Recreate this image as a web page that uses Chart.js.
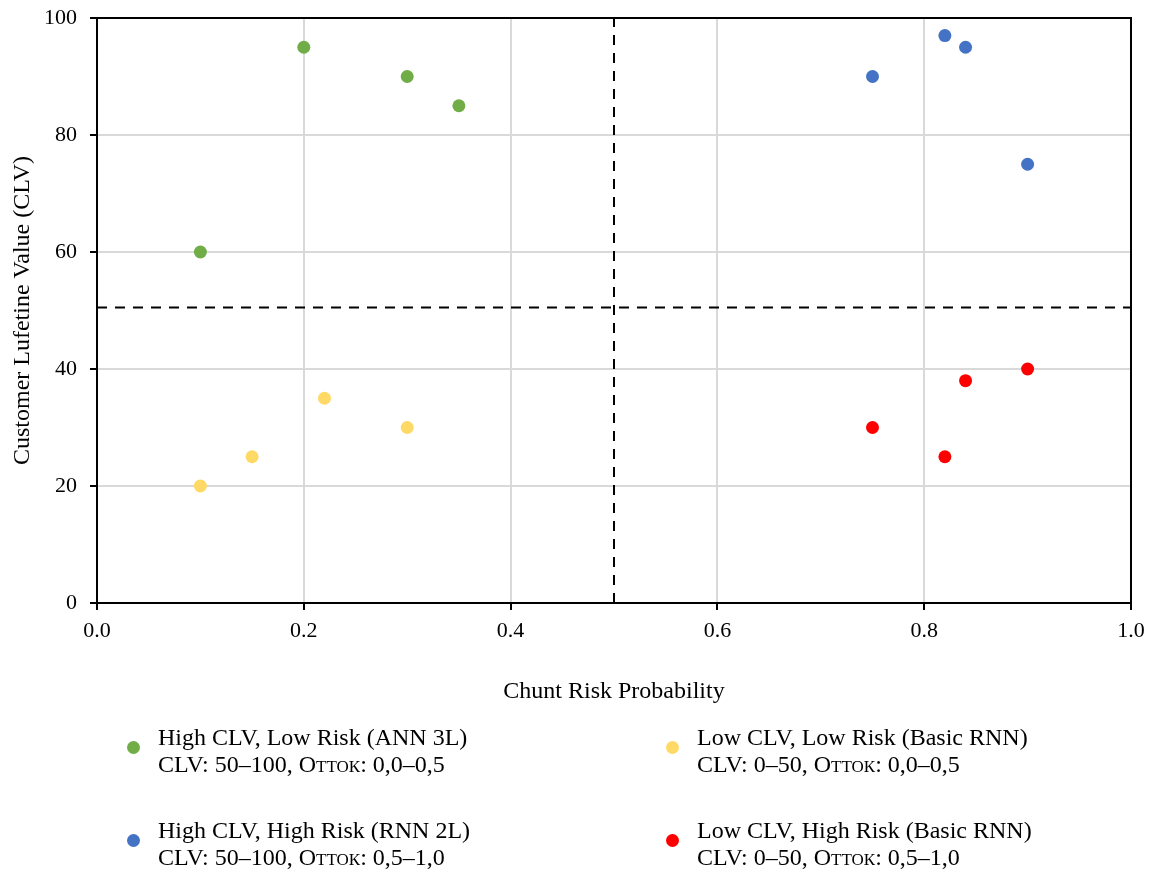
<!DOCTYPE html>
<html>
<head>
<meta charset="utf-8">
<script src="https://cdn.jsdelivr.net/npm/chart.js@4/dist/chart.umd.min.js"></script>
<style>
  body { margin: 0; background: #fff; }
  #wrap { position: relative; width: 1150px; height: 872px; font-family: "Liberation Serif", "Times New Roman", serif; color: #000; }
  #chart { position: absolute; left: 0; top: 0; }
  .leg { position: absolute; font-size: 24px; line-height: 27px; white-space: nowrap; }
  .leg .dot { position: absolute; width: 13px; height: 13px; border-radius: 50%; left: -31px; top: 17px; }
  .sc { font-variant: small-caps; }
</style>
</head>
<body>
<div id="wrap">
  <canvas id="chart" width="1150" height="872"></canvas>
  <div id="legend"></div>
</div>
<script>
// Данные с графика
const greenX = [0.1, 0.2, 0.3, 0.35];
const greenY = [60, 95, 90, 85];
const yellowX = [0.1, 0.15, 0.22, 0.3];
const yellowY = [20, 25, 35, 30];
const blueX = [0.75, 0.82, 0.84, 0.9];
const blueY = [90, 97, 95, 75];
const redX = [0.75, 0.82, 0.84, 0.9];
const redY = [30, 25, 38, 40];

const seriesNames = [
    'High CLV, Low Risk (ANN 3L)',
    'Low CLV, Low Risk (Basic RNN)',
    'High CLV, High Risk (RNN 2L)',
    'Low CLV, High Risk (Basic RNN)'
];
const seriesRanges = [
    ['CLV: 50–100, ', 'Отток', ': 0,0–0,5'],
    ['CLV: 0–50, ', 'Отток', ': 0,0–0,5'],
    ['CLV: 50–100, ', 'Отток', ': 0,5–1,0'],
    ['CLV: 0–50, ', 'Отток', ': 0,5–1,0']
];
const seriesColors = ['#70AD47', '#FFD966', '#4472C4', '#FF0000'];

const riskThreshold = 0.5;
const clvThreshold = 50.5;

function pontos(xs, ys) {
    return xs.map((x, i) => ({ x: x, y: ys[i] }));
}

const seriesData = [
    pontos(greenX, greenY),
    pontos(yellowX, yellowY),
    pontos(blueX, blueY),
    pontos(redX, redY)
];

// Рамка сверху и справа
const frame = {
    id: 'frame',
    afterDraw(chart) {
        const a = chart.chartArea;
        const ctx = chart.ctx;
        ctx.save();
        ctx.strokeStyle = '#000';
        ctx.lineWidth = 2;
        ctx.beginPath();
        ctx.moveTo(a.left, a.top);
        ctx.lineTo(a.right, a.top);
        ctx.lineTo(a.right, a.bottom);
        ctx.stroke();
        ctx.restore();
    }
};

const dashed = {
    type: 'line',
    borderColor: '#000',
    borderWidth: 2,
    borderDash: [10, 8],
    pointRadius: 0,
    fill: false
};

const datasets = [
    Object.assign({ data: [{ x: riskThreshold, y: 0 }, { x: riskThreshold, y: 100 }] }, dashed),
    Object.assign({ data: [{ x: 0, y: clvThreshold }, { x: 1, y: clvThreshold }] }, dashed)
];
seriesData.forEach((d, i) => {
    datasets.push({
        type: 'scatter',
        label: seriesNames[i],
        data: d,
        backgroundColor: seriesColors[i],
        borderColor: seriesColors[i],
        borderWidth: 0,
        pointRadius: 6.5
    });
});

const fonte = 'Liberation Serif';

new Chart(document.getElementById('chart').getContext('2d'), {
    type: 'scatter',
    data: { datasets: datasets },
    options: {
        responsive: false,
        animation: false,
        layout: { padding: { left: 0, top: 18, right: 19, bottom: 162 } },
        plugins: { legend: { display: false }, tooltip: { enabled: false } },
        scales: {
            x: {
                type: 'linear', min: 0, max: 1,
                afterFit: s => { s.height = 107; s.paddingLeft = 0; s.paddingRight = 0; },
                ticks: { stepSize: 0.2, padding: 8, color: '#000', font: { family: fonte, size: 22 },
                         callback: v => v.toFixed(1) },
                grid: { color: '#d9d9d9', lineWidth: 2, tickLength: 7, tickColor: '#000', tickWidth: 2 },
                border: { color: '#000', width: 2 },
                title: { display: true, text: 'Chunt Risk Probability', color: '#000',
                         font: { family: fonte, size: 24 }, padding: { top: 4, bottom: 4 } }
            },
            y: {
                type: 'linear', min: 0, max: 100,
                afterFit: s => { s.width = 97; s.paddingTop = 0; s.paddingBottom = 0; },
                ticks: { stepSize: 20, padding: 13, color: '#000', font: { family: fonte, size: 22 } },
                grid: { color: '#d9d9d9', lineWidth: 2, tickLength: 7, tickColor: '#000', tickWidth: 2 },
                border: { color: '#000', width: 2 },
                title: { display: true, text: 'Customer Lufetine Value (CLV)', color: '#000',
                         font: { family: fonte, size: 24 }, padding: { top: 8, bottom: 0 } }
            }
        }
    },
    plugins: [frame]
});

// Легенда: две колонки, по два элемента
const legPos = [[158, 724], [697, 724], [158, 817], [697, 817]];
const legOrder = [0, 1, 2, 3];
const legend = document.getElementById('legend');
legOrder.forEach((s, k) => {
    const el = document.createElement('div');
    el.className = 'leg';
    el.style.left = legPos[k][0] + 'px';
    el.style.top = legPos[k][1] + 'px';
    const r = seriesRanges[s];
    el.innerHTML = '<span class="dot" style="background:' + seriesColors[s] + '"></span>' +
        seriesNames[s] + '<br>' + r[0] + '<span class="sc">' + r[1] + '</span>' + r[2];
    legend.appendChild(el);
});
</script>
</body>
</html>
